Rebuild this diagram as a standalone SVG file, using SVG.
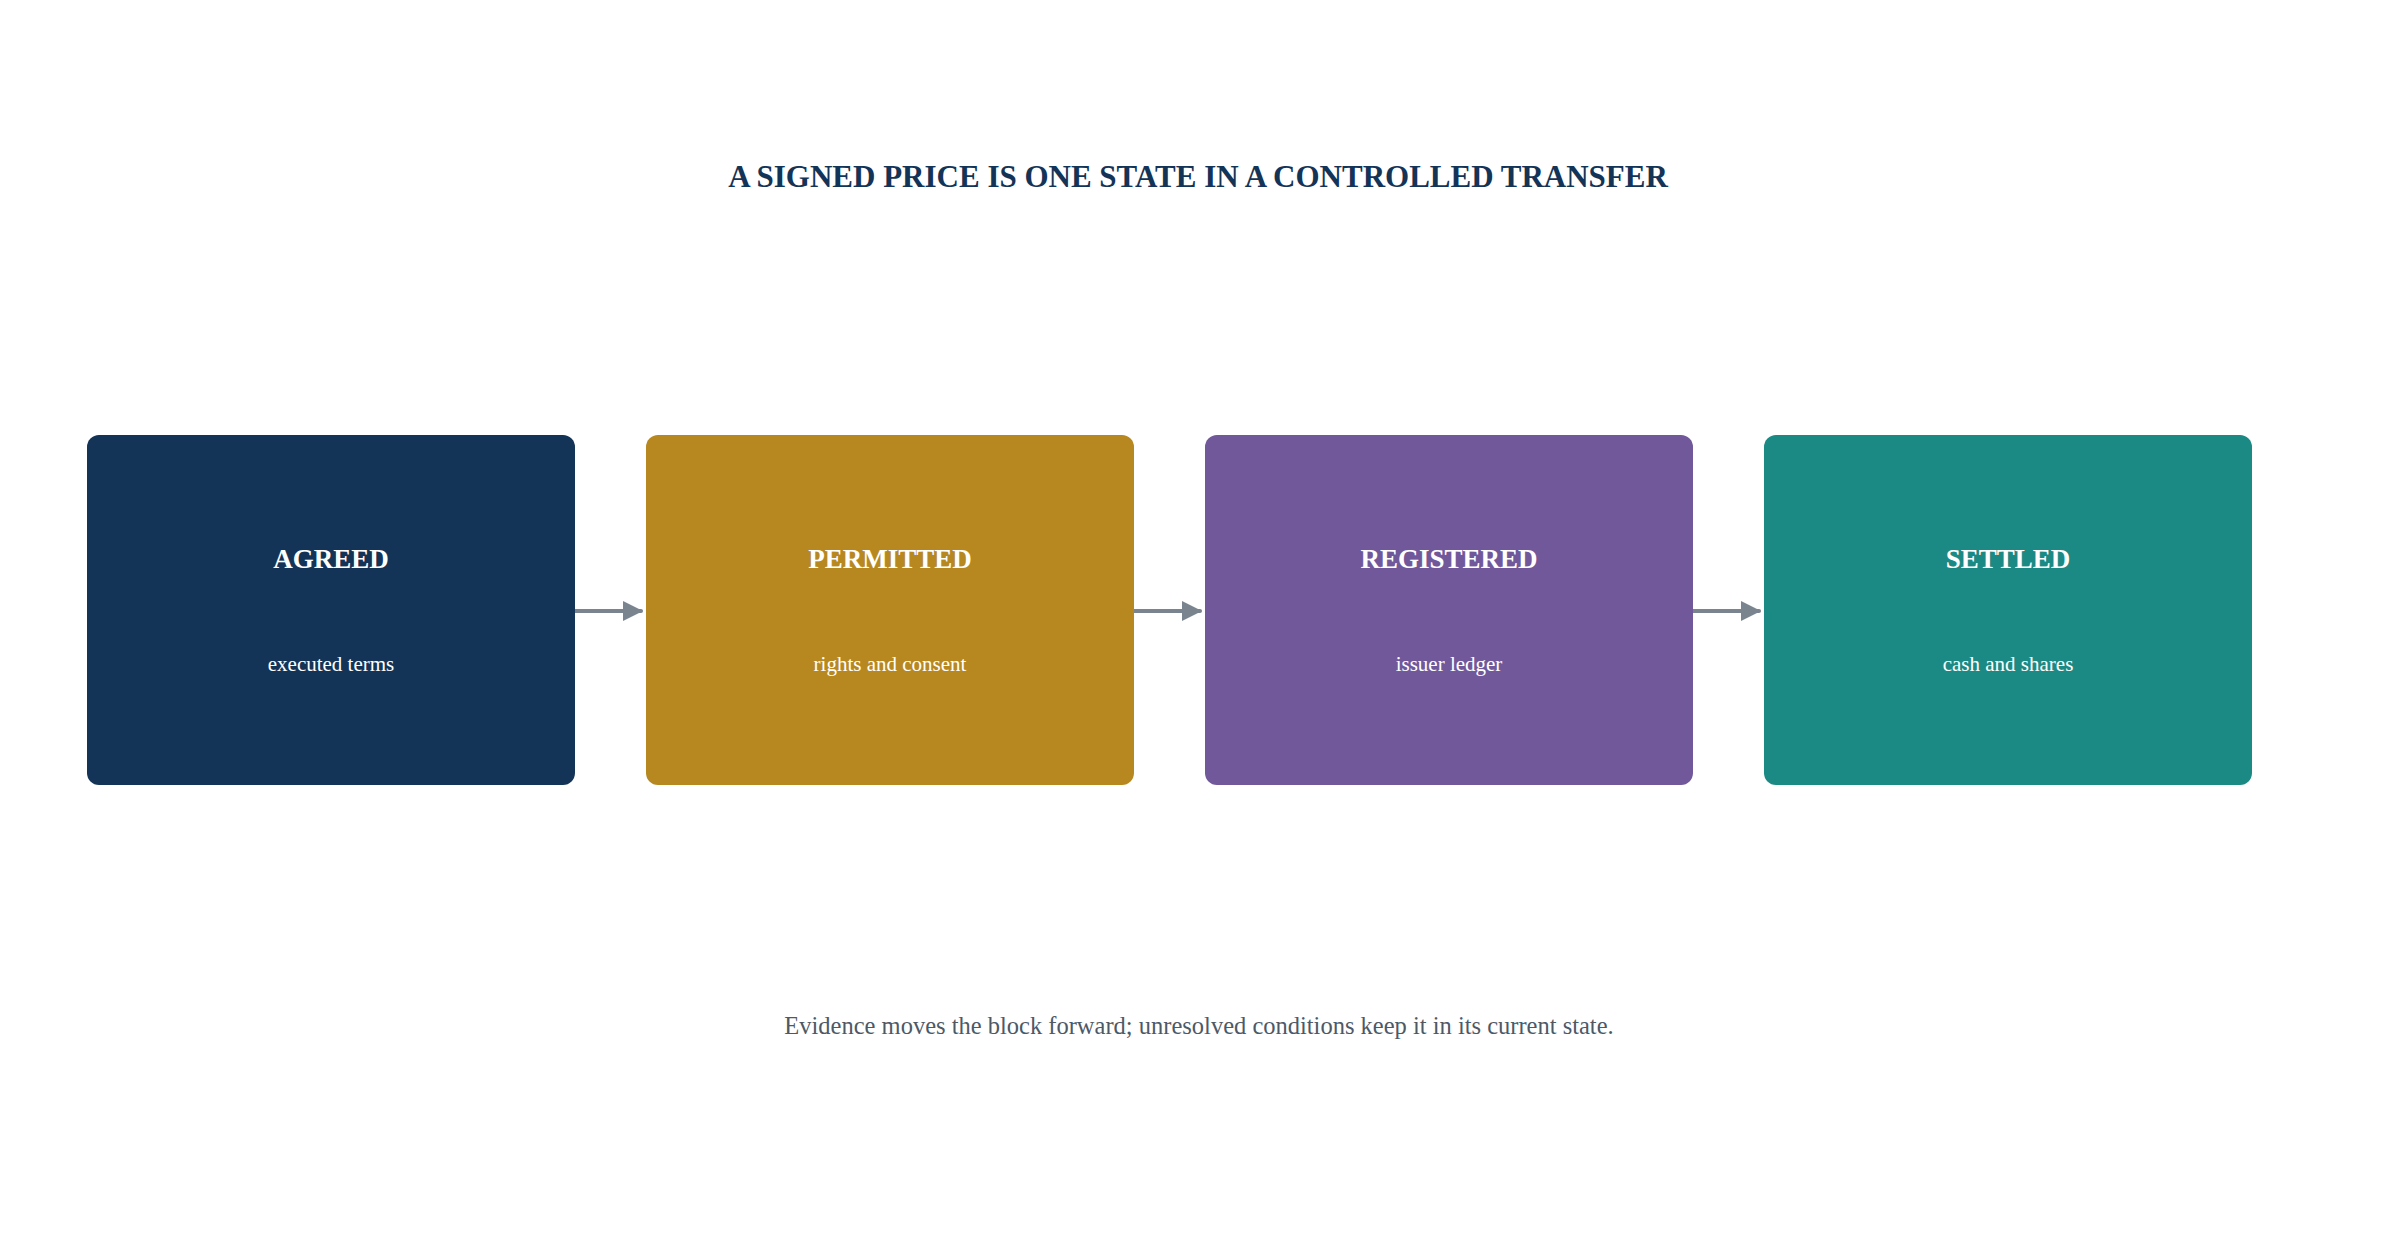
<svg xmlns="http://www.w3.org/2000/svg" width="2397" height="1253" viewBox="0 0 2397 1253">
<style>
.title{font-family:"Liberation Serif","Times New Roman",serif;font-weight:bold;font-size:31px;fill:#143457;text-anchor:middle}
.nt{font-family:"Liberation Serif","Times New Roman",serif;font-weight:bold;font-size:27px;fill:#ffffff;text-anchor:middle}
.ns{font-family:"Liberation Serif","Times New Roman",serif;font-size:21px;fill:#ffffff;text-anchor:middle}
.foot{font-family:"Liberation Serif","Times New Roman",serif;font-size:24.5px;fill:#4d5966;text-anchor:middle}
.edge{stroke:#7a848f;stroke-width:4;stroke-linecap:round;fill:none}
</style>
<defs>
<marker id="ah" viewBox="0 0 10 10" refX="9" refY="5" markerWidth="5" markerHeight="5" markerUnits="strokeWidth" orient="auto">
<path d="M0,0 L10,5 L0,10 z" fill="#7a848f"/>
</marker>
</defs>
<rect width="2397" height="1253" fill="#ffffff"/>
<text class="title" x="1198" y="187">A SIGNED PRICE IS ONE STATE IN A CONTROLLED TRANSFER</text>
<g id="connectors">
<line class="edge" x1="573" y1="611" x2="641" y2="611" marker-end="url(#ah)"/>
<line class="edge" x1="1132" y1="611" x2="1200" y2="611" marker-end="url(#ah)"/>
<line class="edge" x1="1691" y1="611" x2="1759" y2="611" marker-end="url(#ah)"/>
</g>
<g id="node-agreed">
<rect x="87" y="435" width="488" height="350" rx="12" fill="#143457"/>
<text class="nt" x="331" y="568">AGREED</text>
<text class="ns" x="331" y="671">executed terms</text>
</g>
<g id="node-permitted">
<rect x="646" y="435" width="488" height="350" rx="12" fill="#b88820"/>
<text class="nt" x="890" y="568">PERMITTED</text>
<text class="ns" x="890" y="671">rights and consent</text>
</g>
<g id="node-registered">
<rect x="1205" y="435" width="488" height="350" rx="12" fill="#70589a"/>
<text class="nt" x="1449" y="568">REGISTERED</text>
<text class="ns" x="1449" y="671">issuer ledger</text>
</g>
<g id="node-settled">
<rect x="1764" y="435" width="488" height="350" rx="12" fill="#1c8a84"/>
<text class="nt" x="2008" y="568">SETTLED</text>
<text class="ns" x="2008" y="671">cash and shares</text>
</g>
<text class="foot" x="1199" y="1034">Evidence moves the block forward; unresolved conditions keep it in its current state.</text>
</svg>
